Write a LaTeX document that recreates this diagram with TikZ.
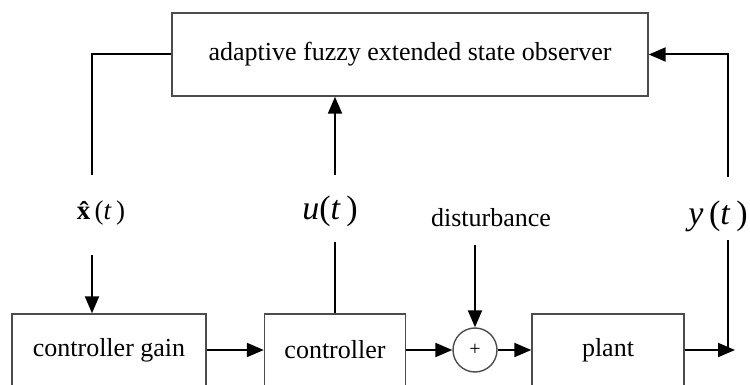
\documentclass[tikz,border=0pt]{standalone}
\usepackage{fontspec}
\setmainfont{Liberation Serif}
\usetikzlibrary{arrows.meta}

\begin{document}
\begin{tikzpicture}[x=1pt,y=-1pt,line width=2pt,>={Triangle[length=17pt,width=14pt]}]
    \tikzstyle{block}=[rectangle,draw=black!70,line width=1.4pt,inner sep=0pt,font=\fontsize{26}{30}\selectfont]
    \tikzstyle{lower block}=[block,minimum height=72pt];
    \tikzstyle{sum point}=[circle,draw=black!70,line width=1.4pt,minimum size=44pt,inner sep=0pt,font=\fontsize{20}{22}\selectfont];
    \tikzstyle{signal}=[inner sep=0pt,font=\fontsize{34}{38}\selectfont];

    \clip (0,0) rectangle (750,385);

    % Draw the observer block
    \node[block,minimum width=476pt,minimum height=83pt] (obs) at (410,54.5) {adaptive fuzzy extended state observer};

    % Draw the forward path
    \node[lower block,minimum width=194pt] (gain) at (109,350) {controller gain};
    \node[lower block,minimum width=141pt] (ctrl) at (335,350) {controller};
    \node[sum point] (add) at (475,350) {+};
    \node[lower block,minimum width=152pt] (plant) at (608,350) {plant};
    \coordinate (out) at (735,350);
    \coordinate (tap) at (728,350);

    % Draw the signal labels
    \node[signal,font=\fontsize{27}{30}\selectfont] (xhat) at (101,213) {\textbf{\^x}(\textit{t}\,)};
    \node[signal] (u) at (330,211) {\textit{u}(\textit{t}\,)};
    \node[block,draw=none] (dist) at (491,218) {disturbance};
    \node[signal] (y) at (718,216) {\textit{y}\,(\textit{t}\,)};

    % Ends of the lines next to the labels
    \coordinate (xhat-in) at (92,175);
    \coordinate (xhat-out) at (92,255);
    \coordinate (u-in) at (335,242);
    \coordinate (u-out) at (335,175);
    \coordinate (dist-out) at (475,245);
    \coordinate (y-in) at (728,240);
    \coordinate (y-out) at (728,177);

    % Connect the blocks of the forward path
    \foreach \source/\dest in {gain/ctrl, ctrl/add, add/plant}
        \draw[->] (\source) -- (\dest);
    \draw[->] (plant) -- (out);
    \draw[->] (dist-out) -- (add);

    % Connect the feedback lines through the observer
    \draw (tap) -- (y-in);
    \draw[->] (y-out) |- (obs);
    \draw (ctrl.north) -- (u-in);
    \draw[->] (u-out) -- (u-out |- obs.south);
    \draw (obs) -| (xhat-in);
    \draw[->] (xhat-out) -- (xhat-out |- gain.north);

\end{tikzpicture}
\end{document}
